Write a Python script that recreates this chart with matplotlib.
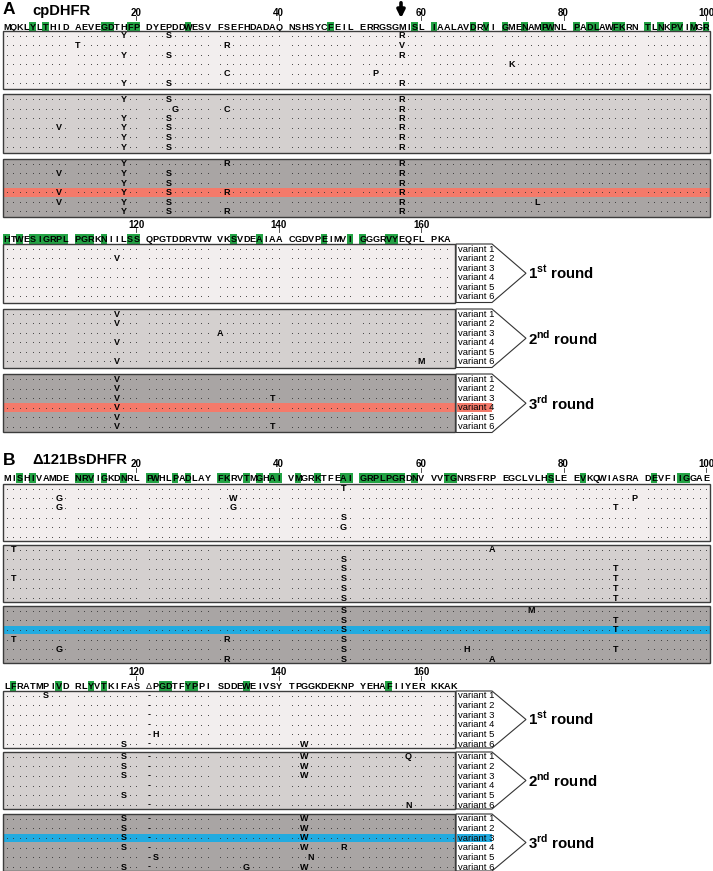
import matplotlib
matplotlib.use("Agg")
import matplotlib.pyplot as plt
from matplotlib.patches import Rectangle, Polygon

plt.rcParams["font.family"] = ["Liberation Sans", "DejaVu Sans"]
plt.rcParams["mathtext.fontset"] = "custom"
plt.rcParams["mathtext.rm"] = "Liberation Sans"
plt.rcParams["mathtext.bf"] = "Liberation Sans:bold"

# ---------------- data ----------------
seq_a = ("MQKLYLTHID AEVEGDTHFP DYEPDDWESV FSEFHDADAQ NSHSYCFEIL "
         "ERRGSGMISL IAALAVDRVI GMENAMPWNL PADLAWFKRN TLNKPVIMGR "
         "HTWESIGRPL PGRKNIILSS QPGTDDRVTW VKSVDEAIAA CGDVPEIMVI "
         "GGGRVYEQFL PKA").replace(" ", "")
green_a = [5, 7, 15, 16, 19, 20, 27, 47, 59, 61, 67, 69, 71, 74, 77, 78,
           81, 83, 84, 87, 88, 91, 93, 95, 96, 98, 100,
           101, 103, 105, 106, 107, 108, 109, 110, 111, 112, 113, 115, 119, 120,
           133, 137, 146, 150, 151, 155, 156]

seq_b = ("MISHIVAMDE NRVIGKDNRL PWHLPADLAY FKRVTMGHAI VMGRKTFEAI "
         "GRPLPGRDNV VVTGNRSFRP EGCLVLHSLE EVKQWIASRA DEVFIIGGAE "
         "LFRATMPIVD RLYVTKIFAS \u0394PGDTFYPPI SDDEWEIVSY TPGGKDEKNP "
         "YEHAFIIYER KKAK").replace(" ", "")
green_b = [3, 5, 11, 12, 13, 15, 18, 21, 22, 25, 27, 31, 32, 35, 37, 39, 40,
           42, 45, 49, 50, 51, 52, 53, 54, 55, 56, 57, 59, 63, 64, 78, 82, 92,
           96, 97, 102, 109, 113, 115, 123, 124, 127, 128, 135, 155]

# mutations per round: one dict per variant, residue -> new amino acid
mut_a_r1 = [{18: "Y", 24: "S", 57: "R"},
            {11: "T", 32: "R", 57: "V", 117: "V"},
            {18: "Y", 24: "S", 57: "R"},
            {72: "K"},
            {32: "C", 53: "P"},
            {18: "Y", 24: "S", 57: "R"}]
mut_a_r2 = [{18: "Y", 24: "S", 57: "R", 117: "V"},
            {25: "G", 32: "C", 57: "R", 117: "V"},
            {18: "Y", 24: "S", 57: "R", 131: "A"},
            {9: "V", 18: "Y", 24: "S", 57: "R", 117: "V"},
            {18: "Y", 24: "S", 57: "R"},
            {18: "Y", 24: "S", 57: "R", 117: "V", 160: "M"}]
mut_a_r3 = [{18: "Y", 32: "R", 57: "R", 117: "V"},
            {9: "V", 18: "Y", 24: "S", 57: "R", 117: "V"},
            {18: "Y", 24: "S", 57: "R", 117: "V", 139: "T"},
            {9: "V", 18: "Y", 24: "S", 32: "R", 57: "R", 117: "V"},
            {9: "V", 18: "Y", 24: "S", 57: "R", 76: "L", 117: "V"},
            {18: "Y", 24: "S", 32: "R", 57: "R", 117: "V", 139: "T"}]

mut_b_r1 = [{49: "T", 107: "S"},
            {9: "G", 33: "W", 90: "P"},
            {9: "G", 33: "G", 87: "T"},
            {49: "S"},
            {49: "G", 122: "H"},
            {118: "S", 143: "W"}]
mut_b_r2 = [{2: "T", 70: "A", 118: "S", 143: "W", 158: "Q"},
            {49: "S", 118: "S", 143: "W"},
            {49: "S", 87: "T", 118: "S", 143: "W"},
            {2: "T", 49: "S", 87: "T"},
            {49: "S", 87: "T", 118: "S"},
            {49: "S", 87: "T", 158: "N"}]
mut_b_r3 = [{49: "S", 75: "M", 118: "S", 143: "W"},
            {49: "S", 87: "T", 118: "S", 143: "W"},
            {49: "S", 87: "T", 118: "S", 143: "W"},
            {2: "T", 32: "R", 49: "S", 118: "S", 143: "W", 149: "R"},
            {9: "G", 49: "S", 66: "H", 87: "T", 122: "S", 144: "N"},
            {32: "R", 49: "S", 70: "A", 118: "S", 135: "G", 143: "W"}]

variant_names = ["variant 1", "variant 2", "variant 3", "variant 4", "variant 5", "variant 6"]
round_names = ["1$^{\\mathbf{st}}$ round", "2$^{\\mathbf{nd}}$ round", "3$^{\\mathbf{rd}}$ round"]

block_colors = ["#f2eeee", "#d4d0cf", "#a9a5a4"]
green_col = "#23a445"

fig = plt.figure(figsize=(7.13, 8.71), dpi=100)
ax = fig.add_axes([0, 0, 1, 1])
ax.set_xlim(0, 713)
ax.set_ylim(871, 0)
ax.axis("off")


def col_x(n):
    i = (n - 1) % 100
    return 6.7 + (i // 10) * 71.2 + (i % 10) * 6.5


def draw_panel(seq, greens, rounds, seq_y, tops, row0, pitch, height, hl, hl_color):
    for line in range(2):
        first = line * 100 + 1
        last = min(len(seq), line * 100 + 100)
        y0 = seq_y[line]
        right = 710 if last - first == 99 else 455
        # sequence line
        for n in range(first, last + 1):
            x = col_x(n)
            if n in greens:
                ax.add_patch(Rectangle((x - 3.25, y0 - 4.8), 6.5, 9.6, color=green_col, lw=0, zorder=1))
            ch = seq[n - 1]
            ax.text(x, y0, ch, ha="center", va="center", fontsize=6.6,
                    fontweight="normal" if ch == "\u0394" else "bold", zorder=3)
            if n % 20 == 0:
                ax.text(x, y0 - 14.5, str(n), ha="center", va="center", fontsize=7, fontweight="bold")
                ax.plot([x, x], [y0 - 10.5, y0 - 6.5], color="#333333", lw=0.6)
        # variant blocks
        for r, muts in enumerate(rounds):
            top = tops[line][r]
            ax.add_patch(Rectangle((3, top), right - 3, height, facecolor=block_colors[r],
                                   edgecolor="none", zorder=0))
            if hl[0] == r:
                yh = top + row0 + hl[1] * pitch
                ax.add_patch(Rectangle((3, yh - 4.3), right - 3, 8.6, color=hl_color, lw=0, zorder=1))
            ax.add_patch(Rectangle((3, top), right - 3, height, fill=False,
                                   edgecolor="#3c3c3c", lw=1.0, zorder=4))
            dx, dy = [], []
            for v, m in enumerate(muts):
                yv = top + row0 + v * pitch
                for n in range(first, last + 1):
                    x = col_x(n)
                    if n in m:
                        ax.text(x, yv, m[n], ha="center", va="center", fontsize=6.5,
                                fontweight="bold", zorder=3)
                    elif seq[n - 1] == "\u0394":
                        ax.text(x, yv, "-", ha="center", va="center", fontsize=6.5,
                                fontweight="bold", zorder=3)
                    else:
                        dx.append(x)
                        dy.append(yv)
            ax.scatter(dx, dy, s=0.4, color="#333333", linewidths=0, zorder=3)
            # labels on the short (last) line
            if line == 1:
                lx = 456
                ax.add_patch(Polygon([(lx, top), (492, top), (526, top + height / 2),
                                      (492, top + height), (lx, top + height)], closed=True,
                                     facecolor="white", edgecolor="#333333", lw=0.8, zorder=2))
                if hl[0] == r:
                    yh = top + row0 + hl[1] * pitch
                    ax.add_patch(Rectangle((lx + 1, yh - 4.3), 35, 8.6, color=hl_color, lw=0, zorder=3))
                for v in range(len(muts)):
                    ax.text(lx + 1.5, top + row0 + v * pitch + 0.3, variant_names[v], ha="left",
                            va="center", fontsize=6.8, zorder=4)
                ax.text(528, top + height / 2, round_names[r], ha="left", va="center",
                        fontsize=10.8, fontweight="bold")


# panel A
ax.text(3, 10, "A", fontsize=12.5, fontweight="bold", ha="left", va="center")
ax.text(32, 11, "cpDHFR", fontsize=10.6, fontweight="bold", ha="left", va="center")
ax.annotate("", xy=(401, 21), xytext=(401, 0),
            arrowprops=dict(arrowstyle="-|>", lw=2.6, color="black", mutation_scale=11))
draw_panel(seq_a, green_a, [mut_a_r1, mut_a_r2, mut_a_r3], [27, 239],
           [[31, 94.5, 159], [244, 309, 374]], 5.0, 9.5, 58.5, (2, 3), "#f47a6a")

# panel B
ax.text(3, 460, "B", fontsize=12.5, fontweight="bold", ha="left", va="center")
ax.text(32, 460, "\u0394121BsDHFR", fontsize=10.6, fontweight="bold", ha="left", va="center")
draw_panel(seq_b, green_b, [mut_b_r1, mut_b_r2, mut_b_r3], [478, 686],
           [[484, 545, 606], [691, 752, 814]], 4.5, 9.7, 57, (2, 2), "#22abe0")

fig.savefig("out.png", dpi=100)
